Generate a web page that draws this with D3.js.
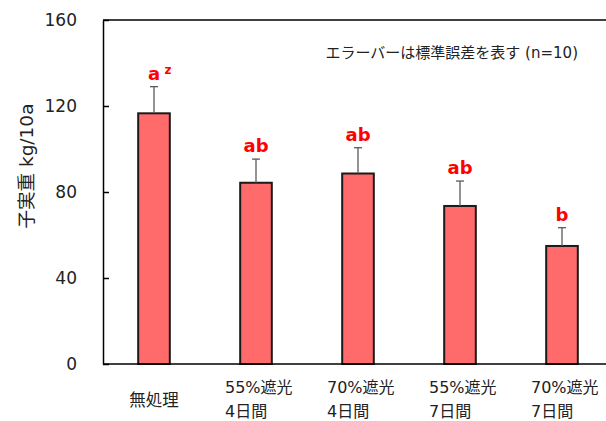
<!DOCTYPE html>
<html><head><meta charset="utf-8">
<script src="https://cdn.jsdelivr.net/npm/d3@7"></script>
<style>
html,body{margin:0;padding:0;background:#fff;}
svg{display:block;}
text{font-family:"DejaVu Sans","Noto Sans CJK JP",sans-serif;}
</style></head>
<body>
<svg id="chart" width="606" height="421"></svg>
<script>
const categories = [["無処理"], ["55%遮光","4日間"], ["70%遮光","4日間"], ["55%遮光","7日間"], ["70%遮光","7日間"]];
const values = [116.6, 84.3, 88.6, 73.5, 54.9];
const errors = [12.4, 11.0, 12.0, 11.6, 8.5];
const letters = ["a", "ab", "ab", "ab", "b"];
const yTicks = [0, 40, 80, 120, 160];
const note = "エラーバーは標準誤差を表す (n=10)";
const yLabel = "子実重 kg/10a";

const svg = d3.select("#chart");
const mLeft = 103, mRight = 613, mTop = 20, mBottom = 364;
const x = d3.scaleBand().domain(d3.range(values.length)).range([mLeft, mRight]).paddingInner(0.69).paddingOuter(0.345);
const y = d3.scaleLinear().domain([0, 160]).range([mBottom, mTop]);

// frame: top line
svg.append("line").attr("x1", mLeft).attr("x2", 606).attr("y1", mTop).attr("y2", mTop)
  .attr("stroke", "#000").attr("stroke-width", 1.5);

// y axis
const yAxis = svg.append("g").attr("transform", `translate(${mLeft},0)`)
  .call(d3.axisLeft(y).tickValues(yTicks).tickSizeInner(-6).tickSizeOuter(0).tickPadding(26));
yAxis.select(".domain").attr("stroke", "#000").attr("stroke-width", 1.5);
yAxis.selectAll(".tick line").attr("stroke", "#000").attr("stroke-width", 1.5);
yAxis.selectAll(".tick text").attr("font-size", 17).attr("fill", "#222")
  .attr("font-family", "DejaVu Sans, sans-serif");

// bars
const g = svg.append("g");
g.selectAll("rect").data(values).enter().append("rect")
  .attr("x", (d, i) => x(i)).attr("width", x.bandwidth())
  .attr("y", d => y(d)).attr("height", d => y(0) - y(d))
  .attr("fill", "#FF6B6B").attr("stroke", "#1a1a1a").attr("stroke-width", 2);

// error bars
values.forEach((v, i) => {
  const cx = x(i) + x.bandwidth() / 2;
  g.append("line").attr("x1", cx).attr("x2", cx).attr("y1", y(v)).attr("y2", y(v + errors[i]))
    .attr("stroke", "#5a5a5a").attr("stroke-width", 1.3);
  g.append("line").attr("x1", cx - 4).attr("x2", cx + 4).attr("y1", y(v + errors[i])).attr("y2", y(v + errors[i]))
    .attr("stroke", "#5a5a5a").attr("stroke-width", 1.3);
  g.append("text").attr("x", cx).attr("y", y(v + errors[i]) - 7)
    .attr("text-anchor", "middle").attr("font-size", 18).attr("font-weight", "bold")
    .attr("fill", "#FF0000").text(letters[i]);
  if (i === 0) {
    g.append("text").attr("x", cx + 14).attr("y", y(v + errors[i]) - 13)
      .attr("text-anchor", "middle").attr("font-size", 12).attr("font-weight", "bold")
      .attr("fill", "#FF0000").text("z");
  }
});

// x axis line
svg.append("line").attr("x1", mLeft).attr("x2", 606).attr("y1", mBottom).attr("y2", mBottom)
  .attr("stroke", "#000").attr("stroke-width", 1.5);

// x labels
categories.forEach((lines, i) => {
  const cx = x(i) + x.bandwidth() / 2;
  if (lines.length === 1) {
    svg.append("text").attr("x", cx).attr("y", 406).attr("text-anchor", "middle")
      .attr("font-size", 16.5).attr("fill", "#222").text(lines[0]);
  } else {
    const t = svg.append("text").attr("font-size", 16).attr("fill", "#222");
    t.append("tspan").attr("x", cx - 31).attr("y", 393).text(lines[0]);
    t.append("tspan").attr("x", cx - 31).attr("y", 416.5).text(lines[1]);
  }
});

// note
svg.append("text").attr("x", 578).attr("y", 58).attr("text-anchor", "end")
  .attr("font-size", 15).attr("fill", "#222").text(note);

// y label
svg.append("text").attr("transform", "translate(26,166) rotate(-90)")
  .attr("text-anchor", "middle").attr("dominant-baseline", "central")
  .attr("font-size", 18.5).attr("fill", "#222").text(yLabel);
</script>
</body></html>
